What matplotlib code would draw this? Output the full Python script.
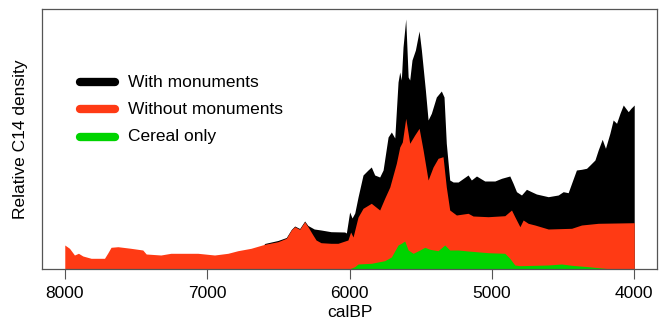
import numpy as np
import matplotlib
matplotlib.use("Agg")
import matplotlib.pyplot as plt

# ---- data (relative C14 density, arbitrary units) ----
red_years = [8000, 8000, 7967, 7932, 7904, 7873, 7815, 7721, 7698, 7675, 7627, 7536, 7452, 7428,
             7325, 7255, 7065, 6948, 6854, 6784, 6692, 6596, 6503, 6444, 6409, 6385, 6350, 6315,
             6292, 6257, 6235, 6200, 6130, 6081, 6011, 5992, 5975, 5940, 5905, 5847, 5788, 5753,
             5717, 5671, 5647, 5629, 5605, 5577, 5542, 5511, 5483, 5448, 5413, 5378, 5343, 5320,
             5296, 5249, 5167, 5132, 5026, 4909, 4862, 4839, 4803, 4780, 4745, 4698, 4604, 4440,
             4370, 4253, 4000, 4000]
red_vals = [0, 24, 20.7, 14, 15.7, 13, 10.7, 10.7, 16, 21.7, 22.3, 20.7, 19, 15,
            14, 15.7, 15.7, 14, 15.7, 18.3, 20.7, 24.7, 27.3, 30.7, 39, 42.3, 39.7, 47.3,
            42.3, 34, 29, 26.3, 25.7, 25.7, 29, 37, 32, 52, 60.7, 65.7, 59, 70.7,
            82, 105.7, 122, 127, 150.7, 125.7, 134, 140.7, 119, 89, 102, 110.7, 112.3, 82,
            59, 54, 55.7, 53, 52.3, 53.3, 59, 52.3, 42.3, 49, 45.7, 44, 40, 40.7,
            44, 45.7, 46.3, 0]

black_years = [6700, 6596, 6503, 6444, 6409, 6385, 6350, 6315, 6292, 6248, 6200, 6130, 6034, 6022,
               5999, 5982, 5963, 5940, 5905, 5870, 5847, 5823, 5788, 5764, 5729, 5706, 5682, 5659,
               5647, 5636, 5624, 5605, 5588, 5577, 5561, 5537, 5511, 5495, 5467, 5448, 5425, 5390,
               5355, 5336, 5320, 5296, 5272, 5237, 5167, 5144, 5108, 5050, 4979, 4932, 4874, 4851,
               4827, 4792, 4757, 4722, 4687, 4604, 4534, 4499, 4464, 4436, 4406, 4370, 4335, 4311,
               4276, 4253, 4225, 4202, 4171, 4148, 4124, 4100, 4077, 4042, 4023, 4000, 4000]
black_vals = [0, 25.5, 28.5, 31.5, 39.5, 43, 40.5, 48, 43.5, 40, 39, 37.3, 37, 36,
              57, 51, 56, 72, 94, 99, 102, 94, 92, 99, 132, 137, 131, 187,
              197, 189, 222, 250, 192, 189, 209, 219, 238, 219, 179, 149, 155.7, 172,
              178, 172, 125.7, 89, 87, 87, 94, 89, 93, 88, 88, 90.7, 93, 85.7,
              77.3, 74, 79.7, 77.3, 75, 72.3, 74, 77.3, 76.3, 87.3, 99, 99.7, 100.7, 104,
              109, 119, 129.7, 120.7, 135.7, 149, 145.7, 155.7, 164, 157.3, 160.7, 164, 0]

green_years = [6003, 5963, 5940, 5847, 5753, 5706, 5659, 5636, 5612, 5588, 5553, 5506, 5471, 5436,
               5378, 5331, 5296, 5237, 5167, 5026, 4909, 4874, 4839, 4803, 4604, 4511, 4440, 4323,
               4206, 4169]
green_vals = [0, 2.3, 5, 5.7, 8.3, 12, 24, 25.7, 28, 19, 15.7, 19, 21.7, 19.7,
              18.3, 24, 19, 19, 18, 16.3, 15.7, 10.7, 4, 3.3, 4, 5, 3.7, 2.3,
              0.7, 0]

series_labels = ["With monuments", "Without monuments", "Cereal only"]
xticks = [8000, 7000, 6000, 5000, 4000]

BLACK = "#000000"
RED = "#FF3A14"
GREEN = "#00D400"

plt.rcParams['font.family'] = ['Liberation Sans', 'DejaVu Sans']

fig = plt.figure(figsize=(6.67, 3.29), dpi=100)
ax = fig.add_axes([42 / 667, 60 / 329, 615 / 667, 260 / 329])

ax.fill_between(black_years, 0, black_vals, color=BLACK, lw=0)
ax.fill_between(red_years, 0, red_vals, color=RED, lw=0)
ax.fill_between(green_years, 0, green_vals, color=GREEN, lw=0)

ax.set_xlim(8160, 3840)
ax.set_ylim(0, 260)
ax.set_xticks(xticks)
ax.set_xticklabels([str(t) for t in xticks], fontsize=12.5)
ax.set_yticks([])
ax.tick_params(axis='x', length=7, width=0.8, color='#555555', pad=5)
for s in ax.spines.values():
    s.set_color('#555555')
    s.set_linewidth(0.9)

ax.set_xlabel("calBP", fontsize=12.5, labelpad=3)
ax.set_ylabel("Relative C14 density", fontsize=12.5, labelpad=10)

# legend
rows_y = [0.719, 0.615, 0.508]
for lab, col, yy in zip(series_labels, [BLACK, RED, GREEN], rows_y):
    ax.plot([0.062, 0.118], [yy, yy], transform=ax.transAxes, color=col,
            lw=6, solid_capstyle='round')
    ax.text(0.140, yy, lab, transform=ax.transAxes, fontsize=12.5,
            va='center', ha='left')

fig.savefig("out.png", dpi=100)
